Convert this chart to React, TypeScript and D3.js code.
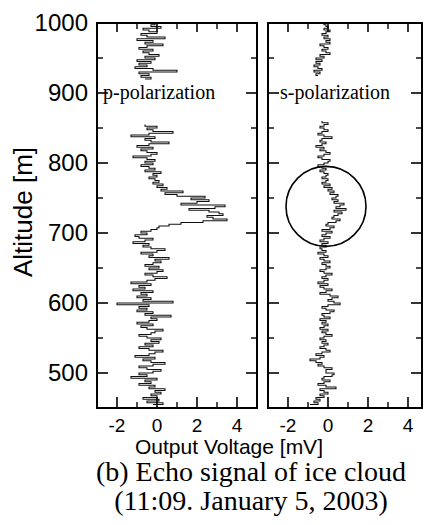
import * as d3 from 'd3';

// altitude grid: first altitude [m] and sampling step of each trace segment
const STEP = 2.5;
const pLowStart = 455;
const pUpStart = 920;
const sLowStart = 455;
const sUpStart = 925;

// p-polarization output voltage [mV]
const pLow = [
  -0.2, 0.3, -0.5, 0.1, -0.7, 0.0, -0.3, 0.2, -0.1, 0.4,
  -0.4, -0.1, -0.9, -0.3, -0.6, 0.0, -1.3, -0.5, -0.9, -0.2,
  0.2, -0.5, -0.9, -0.2, 0.4, -0.3, -0.7, -0.1, -1.1, -0.4,
  -0.1, 0.3, -0.4, -0.9, -0.2, -0.6, 0.1, -0.3, 0.2, -0.5,
  -0.9, -0.3, -0.1, 0.3, -0.5, -0.8, -0.2, -1.0, -0.4, 0.0,
  -0.3, 0.7, -0.6, -0.2, -1.0, -0.5, -0.9, -0.4, -2.0, 0.8,
  -0.7, -0.3, -1.0, -0.5, -0.8, -0.2, -1.2, -0.6, -0.9, -0.3,
  -1.3, -0.5, -0.1, 0.5, -0.2, -0.6, 0.0, 0.3, -0.4, 0.1,
  -0.6, -0.2, 0.2, -0.1, 0.6, -0.4, -0.2, -0.8, 0.0, 0.4,
  -0.3, -0.7, -0.4, -1.2, -0.6, -0.2, -0.9, -1.1, -0.5, -0.8,
  -0.3, 0.0, 0.1, 0.6, 1.2, 2.3, 3.5, 2.8, 2.5, 3.3,
  3.1, 2.6, 1.6, 2.9, 3.4, 1.2, 2.0, 2.6, 1.7, 2.4,
  1.0, 0.4, 1.3, 0.2, 0.5, 0.0, 0.3, -0.2, 0.1, -0.1,
  -0.4, 0.0, -0.2, 0.2, -0.6, -0.1, -0.4, -0.8, -0.2, -0.6,
  -0.1, -0.5, -1.2, -0.3, 0.0, -0.5, -0.8, -0.2, -1.0, -0.4,
  0.6, -0.3, -0.6, -0.1, -1.3, -0.4, 0.8, -0.2, -0.5, 0.0,
  -0.6,
];
const pUp = [
  -0.6, -0.3, -0.8, -0.4, -0.9, 1.0, -0.2, -1.1, -0.5, -0.9,
  -0.3, -1.0, -0.1, -0.6, 0.1, -0.4, -0.7, -0.2, -0.9, -0.5,
  0.3, -0.6, -0.2, -1.0, 0.4, -0.5, -0.8, 0.0, -0.4, -0.7,
  0.2, -0.3, -0.1,
];

// s-polarization output voltage [mV]
const sLow = [
  -0.9, -0.5, -0.7, -0.4, -0.6, -0.2, -0.4, 0.0, -0.2, -0.4,
  0.4, -0.1, -0.5, -0.2, 0.1, -0.3, -0.2, 0.2, 0.3, -0.1,
  -0.1, 0.2, -0.2, -0.5, -0.3, -0.6, -0.9, -0.4, -0.2, -0.6,
  -0.3, 0.1, -0.1, -0.4, -0.2, 0.0, -0.3, -0.1, -0.4, -0.2,
  0.2, -0.1, -0.3, 0.0, -0.4, -0.2, 0.0, -0.3, -0.1, -0.4,
  0.1, -0.2, -0.3, 0.1, 0.3, -0.1, -0.3, 0.0, 0.6, 0.3,
  0.0, 0.2, 0.5, 0.1, -0.4, -0.1, 0.2, -0.2, -0.4, 0.0,
  -0.5, -0.2, 0.0, -0.3, -0.1, 0.2, -0.2, -0.4, -0.1, 0.1,
  -0.1, -0.3, 0.1, -0.2, -0.4, 0.0, -0.2, -0.5, -0.1, -0.3,
  -0.4, -0.1, -0.3, 0.0, -0.4, -0.2, 0.1, -0.3, -0.1, 0.2,
  -0.3, 0.1, 0.3, -0.1, 0.0, 0.4, 0.6, 0.2, 0.3, 0.5,
  0.7, 0.3, 0.9, 0.4, 0.6, 0.8, 0.3, 0.5, 0.2, 0.4,
  0.5, 0.1, 0.3, 0.0, 0.2, -0.2, 0.1, -0.3, -0.1, 0.0,
  -0.3, -0.1, 0.0, -0.2, -0.4, -0.1, -0.3, -0.5, -0.2, 0.0,
  0.1, -0.3, -0.5, -0.2, 0.1, -0.1, -0.4, -0.2, -0.6, -0.3,
  -0.1, -0.4, -0.3, 0.2, -0.2, -0.5, -0.3, 0.0, -0.2, -0.4,
  -0.2, 0.0, -0.3,
];
const sUp = [
  -0.5, -0.6, -0.4, -0.7, -0.3, -0.5, -0.7, -0.4, -0.6, -0.3,
  -0.6, -0.2, -0.4, 0.1, -0.1, -0.3, 0.0, -0.2, -0.4, 0.1,
  -0.1, 0.1, -0.2, 0.0, -0.3, -0.1, 0.1, -0.2, 0.0, -0.1,
  -0.2,
];

const yTicks = [500, 600, 700, 800, 900, 1000];
const yMinor = [550, 650, 750, 850, 950];
const xTicks = [-2, 0, 2, 4];
const xMinor = [-1, 1, 3];
// circled cloud region on the s-polarization panel
const cloud = { v: -0.1, alt: 738, r: 2 };

const W = 427, H = 525;
const top = 23, bottom = 408;
const sans = 'Liberation Sans, Arial, sans-serif';
const serif = 'Liberation Serif, Times New Roman, serif';

const y = d3.scaleLinear().domain([450, 1000]).range([bottom, top]);
const xP = d3.scaleLinear().domain([-3, 5]).range([97, 257]);
const xS = d3.scaleLinear().domain([-3, 4.7]).range([268, 422]);

const toPts = (vals: number[], start: number) => vals.map((v, i) => ({ v, alt: start + i * STEP }));

const Panel = ({ x, segs, label, lx }: { x: d3.ScaleLinear<number, number>; segs: { v: number; alt: number }[][]; label: string; lx: number }) => {
  const [x0, x1] = x.range();
  const line = d3.line<{ v: number; alt: number }>()
    .x(d => x(d.v)).y(d => y(d.alt)).curve(d3.curveStepAfter);
  const maj = 11, mn = 6;
  return (
    <g>
      {segs.map((s, i) => (
        <path key={i} d={line(s) || ''} fill="none" stroke="#111" strokeWidth={1.1} />
      ))}
      {xTicks.filter(t => x(t) < x1).map(t => (
        <g key={'xt' + t}>
          <line x1={x(t)} x2={x(t)} y1={bottom} y2={bottom - maj} stroke="#000" strokeWidth={1.6} />
          <line x1={x(t)} x2={x(t)} y1={top} y2={top + maj - 2} stroke="#000" strokeWidth={1.6} />
          <text x={x(t)} y={432} textAnchor="middle" fontFamily={sans} fontSize={19}>{t}</text>
        </g>
      ))}
      {xMinor.map(t => (
        <g key={'xm' + t}>
          <line x1={x(t)} x2={x(t)} y1={bottom} y2={bottom - mn} stroke="#000" strokeWidth={1.4} />
          <line x1={x(t)} x2={x(t)} y1={top} y2={top + mn} stroke="#000" strokeWidth={1.4} />
        </g>
      ))}
      {yTicks.map(t => (
        <g key={'yt' + t}>
          <line x1={x0} x2={x0 + maj} y1={y(t)} y2={y(t)} stroke="#000" strokeWidth={1.6} />
          <line x1={x1} x2={x1 - maj} y1={y(t)} y2={y(t)} stroke="#000" strokeWidth={1.6} />
        </g>
      ))}
      {yMinor.map(t => (
        <g key={'ym' + t}>
          <line x1={x0} x2={x0 + mn} y1={y(t)} y2={y(t)} stroke="#000" strokeWidth={1.4} />
          <line x1={x1} x2={x1 - mn} y1={y(t)} y2={y(t)} stroke="#000" strokeWidth={1.4} />
        </g>
      ))}
      <rect x={x0} y={top} width={x1 - x0} height={bottom - top} fill="none" stroke="#000" strokeWidth={2} />
      <text x={lx} y={99} fontFamily={serif} fontSize={20}>{label}</text>
    </g>
  );
};

export default function App() {
  return (
    <svg width={W} height={H} style={{ position: 'absolute', left: 0, top: 0, background: '#fff' }}>
      <Panel x={xP} segs={[toPts(pLow, pLowStart), toPts(pUp, pUpStart)]} label="p-polarization" lx={103} />
      <Panel x={xS} segs={[toPts(sLow, sLowStart), toPts(sUp, sUpStart)]} label="s-polarization" lx={280} />
      <circle cx={xS(cloud.v)} cy={y(cloud.alt)} r={xS(cloud.r) - xS(0)} fill="none" stroke="#000" strokeWidth={1.6} />
      {yTicks.map(t => (
        <text key={t} x={88} y={y(t)} dy="0.35em" textAnchor="end" fontFamily={sans} fontSize={24}>{t}</text>
      ))}
      <text transform="translate(32,212) rotate(-90)" textAnchor="middle" fontFamily={sans} fontSize={26}>Altitude [m]</text>
      <text x={229} y={454} textAnchor="middle" fontFamily={sans} fontSize={21}>Output Voltage [mV]</text>
      <text x={251} y={481} textAnchor="middle" fontFamily={serif} fontSize={28}>(b) Echo signal of ice cloud</text>
      <text x={251} y={510} textAnchor="middle" fontFamily={serif} fontSize={28}>(11:09. January 5, 2003)</text>
    </svg>
  );
}
